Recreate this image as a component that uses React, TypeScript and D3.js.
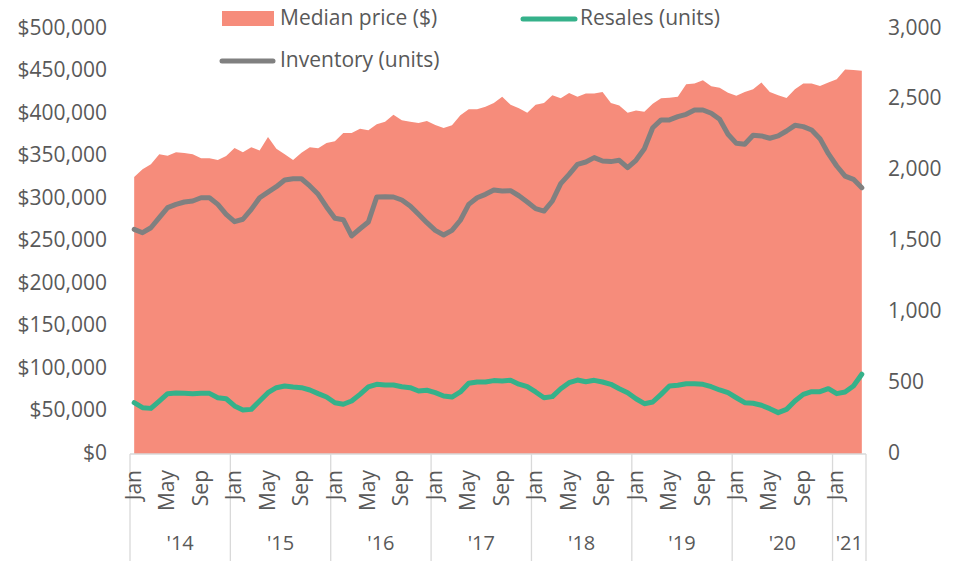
import React, { useEffect } from "react";
import * as d3 from "d3";

const years = ["'14", "'15", "'16", "'17", "'18", "'19", "'20", "'21"];
const monthNames = ["Jan", "Feb", "Mar", "Apr", "May", "Jun", "Jul", "Aug", "Sep", "Oct", "Nov", "Dec"];
const shownMonths = ["Jan", "May", "Sep"];
const leftTicks = [0, 50000, 100000, 150000, 200000, 250000, 300000, 350000, 400000, 450000, 500000];
const rightTicks = [0, 500, 1000, 1500, 2000, 2500, 3000];

const medianPrice = [
  326000, 335000, 341000, 352600, 351000, 355000, 354000, 352600, 348000, 348000, 346000, 350600,
  360000, 355000, 361000, 357000, 373000, 359000, 352600, 346000, 354500, 361000, 359600, 366000,
  368000, 377600, 377600, 382700, 380800, 388000, 391000, 399000, 392600, 391000, 389400, 391800,
  387000, 383500, 386700, 398500, 405500, 405500, 408600, 413000, 420400, 411000, 406700, 401500,
  411000, 413000, 422000, 418500, 424700, 420400, 424000, 424000, 426000, 413000, 410000, 401500,
  404000, 402700, 412000, 418500, 419000, 420400, 435000, 436000, 439600, 432600, 431000, 425000,
  421500, 426000, 429000, 437000, 426000, 422000, 418800, 429000, 436000, 436000, 433000, 437000,
  441000, 452500, 451800, 451000,
];

const inventory = [
  1586, 1562, 1597, 1668, 1739, 1762, 1779, 1786, 1809, 1809, 1762, 1692,
  1640, 1657, 1727, 1809, 1849, 1887, 1934, 1943, 1943, 1892, 1833, 1744,
  1664, 1654, 1539, 1590, 1638, 1814, 1816, 1814, 1793, 1751, 1692, 1633,
  1579, 1546, 1579, 1650, 1762, 1809, 1833, 1864, 1857, 1859, 1823, 1779,
  1732, 1715, 1786, 1908, 1974, 2045, 2061, 2092, 2068, 2064, 2073, 2021,
  2073, 2155, 2303, 2358, 2358, 2381, 2398, 2428, 2428, 2405, 2363, 2257,
  2193, 2186, 2250, 2245, 2229, 2245, 2280, 2320, 2311, 2287, 2226, 2120,
  2033, 1962, 1939, 1880,
];

const resales = [
  362, 327, 322, 374, 426, 431, 428, 426, 428, 428, 397, 390,
  339, 311, 315, 374, 433, 468, 480, 473, 468, 452, 426, 402,
  362, 351, 374, 421, 473, 492, 487, 487, 475, 468, 445, 450,
  433, 409, 402, 438, 499, 508, 508, 518, 516, 521, 493, 475,
  438, 397, 405, 461, 503, 522, 510, 520, 508, 492, 461, 433,
  390, 355, 367, 421, 480, 485, 496, 496, 492, 475, 452, 433,
  397, 362, 358, 344, 320, 292, 315, 374, 421, 440, 440, 461,
  426, 438, 480, 563,
];

const AREA = "#F68C7B";
const GREEN = "#35B18A";
const GRAY = "#808080";
const TEXT = "#595959";
const FONT = "'Open Sans', sans-serif";
const AXIS_FS = 21;
const LEGEND_FS = 21;

export default function App() {
  useEffect(() => {
    document.body.style.margin = "0";
  }, []);

  const W = 964;
  const H = 561;
  const n = medianPrice.length;
  const idx = d3.range(n);
  const x = d3.scaleBand<number>().domain(idx).range([130, 866]);
  const bw = x.bandwidth();
  const cx = (i: number) => (x(i) as number) + bw / 2;
  const yL = d3.scaleLinear().domain([0, 500000]).range([454, 29]);
  const yR = d3.scaleLinear().domain([0, 3000]).range([454, 29]);

  const area = d3.area<number>().x((d, i) => cx(i)).y0(yL(0)).y1((d) => yL(d));
  const lineR = d3.line<number>().x((d, i) => cx(i)).y((d) => yR(d));

  const fmtL = (v: number) => "$" + d3.format(",")(v);
  const fmtR = d3.format(",");

  const groups = years.map((yr, g) => {
    const start = g * 12;
    const end = Math.min(n, start + 12);
    return { yr, start, end };
  });

  return (
    <svg width={W} height={H} style={{ display: "block", fontFamily: FONT }}>
      <path d={area(medianPrice) || ""} fill={AREA} />
      <path d={lineR(inventory) || ""} fill="none" stroke={GRAY} strokeWidth={5} strokeLinejoin="round" strokeLinecap="round" />
      <path d={lineR(resales) || ""} fill="none" stroke={GREEN} strokeWidth={5} strokeLinejoin="round" strokeLinecap="round" />

      {/* category axis */}
      <line x1={130} x2={866} y1={454} y2={454} stroke="#D9D9D9" strokeWidth={1.3} />
      {groups.map((g) => (
        <line key={"d" + g.yr} x1={x(g.start) as number} x2={x(g.start) as number} y1={454} y2={H} stroke="#D9D9D9" strokeWidth={1.3} />
      ))}
      <line x1={866} x2={866} y1={454} y2={H} stroke="#D9D9D9" strokeWidth={1.3} />
      {idx
        .filter((i) => shownMonths.includes(monthNames[i % 12]))
        .map((i) => (
          <text
            key={"m" + i}
            transform={`translate(${cx(i) + 1},470) rotate(-90)`}
            textAnchor="end"
            dominantBaseline="middle"
            fontSize={AXIS_FS}
            fill={TEXT}
          >
            {monthNames[i % 12]}
          </text>
        ))}
      {groups.map((g) => (
        <text
          key={"y" + g.yr}
          x={((x(g.start) as number) + (x(g.end - 1) as number) + bw) / 2}
          y={545}
          textAnchor="middle"
          dominantBaseline="middle"
          fontSize={AXIS_FS - 1}
          fill={TEXT}
        >
          {g.yr}
        </text>
      ))}

      {/* left axis */}
      {leftTicks.map((t) => (
        <text key={"l" + t} x={107} y={yL(t)} textAnchor="end" dominantBaseline="middle" fontSize={AXIS_FS} fill={TEXT}>
          {fmtL(t)}
        </text>
      ))}
      {/* right axis */}
      {rightTicks.map((t) => (
        <text key={"r" + t} x={888} y={yR(t)} textAnchor="start" dominantBaseline="middle" fontSize={AXIS_FS} fill={TEXT}>
          {fmtR(t)}
        </text>
      ))}

      {/* legend */}
      <rect x={222} y={11} width={52} height={15} fill={AREA} />
      <text x={280} y={19} dominantBaseline="middle" fontSize={LEGEND_FS} fill={TEXT}>Median price ($)</text>
      <line x1={523} x2={575} y1={19} y2={19} stroke={GREEN} strokeWidth={5} strokeLinecap="round" />
      <text x={580} y={19} dominantBaseline="middle" fontSize={LEGEND_FS} fill={TEXT}>Resales (units)</text>
      <line x1={222} x2={273} y1={61} y2={61} stroke={GRAY} strokeWidth={5} strokeLinecap="round" />
      <text x={280} y={61} dominantBaseline="middle" fontSize={LEGEND_FS} fill={TEXT}>Inventory (units)</text>
    </svg>
  );
}
